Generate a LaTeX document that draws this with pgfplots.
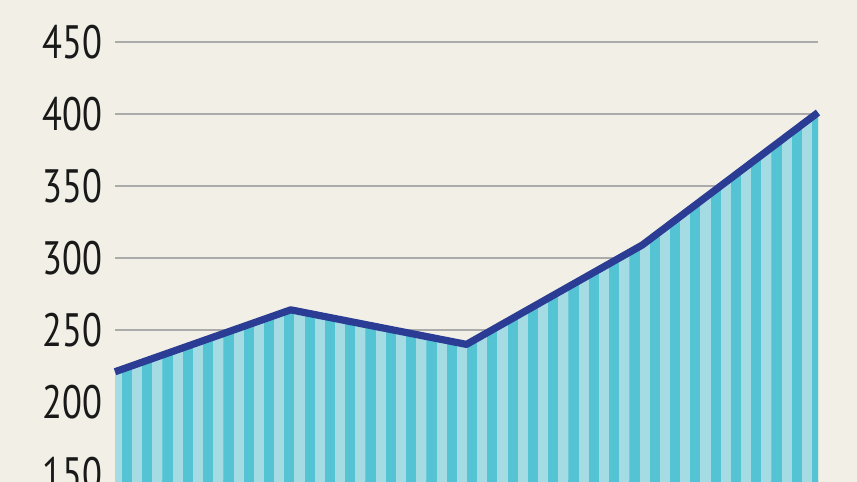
\documentclass[border=0pt]{standalone}
\usepackage{pgfplots}
\pgfplotsset{compat=1.18}
\usepackage{fontspec}
\setmainfont{PT Sans}
\usetikzlibrary{patterns}
\definecolor{bgc}{HTML}{F2EFE6}
\definecolor{gridc}{HTML}{ABABAB}
\definecolor{darkstripe}{HTML}{54C3D3}
\definecolor{lightstripe}{HTML}{A5DCE4}
\definecolor{linec}{HTML}{2A3C93}
\pgfdeclarepatternformonly{vstripes}{\pgfpoint{0bp}{-1bp}}{\pgfpoint{10.15bp}{301bp}}{\pgfpoint{10.15bp}{300bp}}{%
  \pgfpathrectangle{\pgfpoint{0bp}{-1bp}}{\pgfpoint{5.1bp}{302bp}}\pgfusepath{fill}}
\begin{document}
\begin{tikzpicture}
\fill[bgc] (-57.5bp,0) rectangle (371bp,241bp);
\begin{axis}[
  at={(0,0)}, anchor=south west,
  scale only axis, width=351.5bp, height=241bp,
  xmin=0, xmax=4, ymin=144.44, ymax=479.17,
  clip=false,
  axis line style={draw=none},
  xtick=\empty,
  ytick={150,200,...,450},
  major tick length=0pt,
  ymajorgrids,
  grid style={gridc, line width=1.25bp},
  /pgf/number format/assume math mode=true,
  yticklabel style={font=\fontsize{23.5}{24}\selectfont, xscale=0.78, anchor=east, inner sep=0pt, xshift=-8bp, text=black!90},
]
\addplot[draw=none, fill=lightstripe] coordinates {(0,100) (0,221) (1,264) (2,240) (3,309) (4,401) (4,100)} -- cycle;
\addplot[draw=none, pattern=vstripes, pattern color=darkstripe] coordinates {(0,100) (0,221) (1,264) (2,240) (3,309) (4,401) (4,100)} -- cycle;
\addplot[linec, line width=3.6bp, line join=round, line cap=butt] coordinates {(0,221) (1,264) (2,240) (3,309) (4,401)};
\end{axis}
\pgfresetboundingbox
\path[use as bounding box] (-57.5bp,0) rectangle (371bp,241bp);
\end{tikzpicture}
\end{document}
